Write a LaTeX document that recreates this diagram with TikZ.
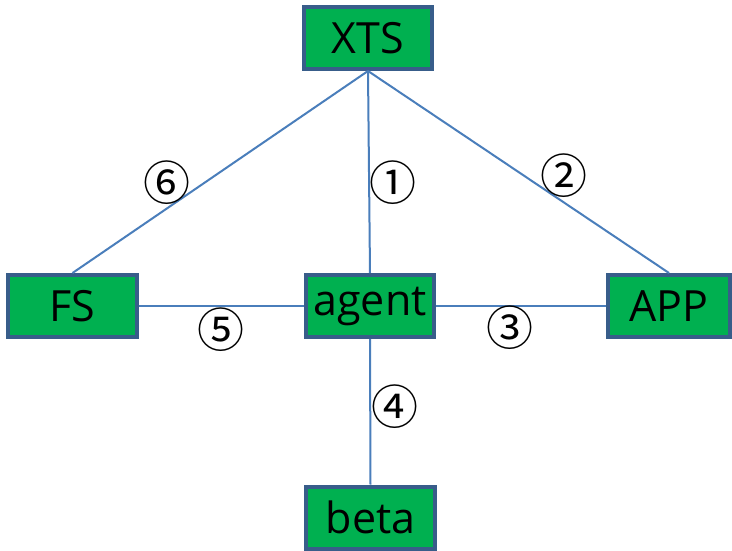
\documentclass[tikz,border=0pt]{standalone}
\usepackage{fontspec}
\setmainfont{Open Sans}
\newfontfamily\circfont{Noto Sans CJK SC}
\definecolor{boxfill}{HTML}{00B050}
\definecolor{boxline}{HTML}{385D8A}
\definecolor{linkc}{HTML}{4A7EBB}
\begin{document}
\begin{tikzpicture}[x=1pt,y=-1pt,
  box/.style={draw=boxline,line width=4pt,fill=boxfill,minimum width=#1,minimum height=62pt,inner sep=0pt,font=\fontsize{43}{43}\selectfont,text=black},
  box/.default=128pt,
  link/.style={draw=linkc,line width=2pt},
  num/.style={font=\circfont\fontsize{47}{47}\selectfont,inner sep=0pt}]
\useasboundingbox (0,0) rectangle (732,551);
\node[box=128pt] (xts) at (368,38) {XTS};
\node[box=129pt] (fs) at (72.5,306) {FS};
\node[box=128pt] (agent) at (370,306) {agent};
\node[box=122pt] (app) at (669,306) {APP};
\node[box=129pt] (beta) at (370.5,517.5) {beta};
\draw[link] (xts.south) -- (agent.north);
\draw[link] (xts.south) -- (fs.north);
\draw[link] (xts.south) -- (app.north);
\draw[link] (agent.west) -- (fs.east);
\draw[link] (agent.east) -- (app.west);
\draw[link] (agent.south) -- (beta.north);
\node[num] (n1) at (393,183) {①};
\node[num] (n2) at (564,176) {②};
\node[num] (n3) at (510,328) {③};
\node[num] (n4) at (395,407) {④};
\node[num] (n5) at (221,330) {⑤};
\node[num] (n6) at (167,183) {⑥};
\end{tikzpicture}
\end{document}
